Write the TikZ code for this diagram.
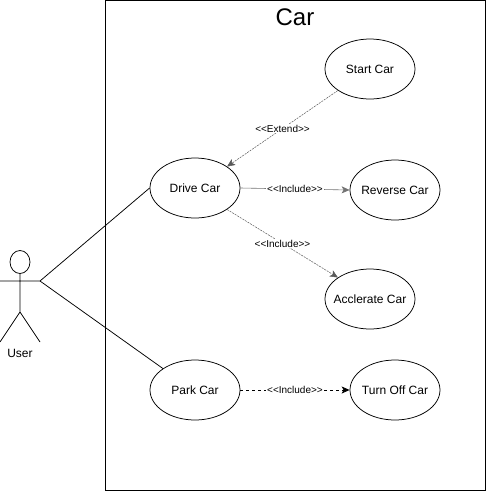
\documentclass[tikz,border=0pt]{standalone}
\usepackage{fontspec}
\setmainfont[Ligatures=NoCommon]{Liberation Sans}
\usetikzlibrary{arrows.meta,shapes.geometric}
\newcommand{\guil}[1]{{<}{<}#1{>}{>}}
\tikzset{
 x=1pt,y=-1pt,
 usecase/.style={draw,ellipse,line width=0.75pt,minimum width=90pt,minimum height=60pt,inner sep=0pt,label={[font=\fontsize{12}{14}\selectfont]center:#1}},
 tip/.style={-{Stealth[length=8pt,width=7pt,inset=2pt]}},
 relfaint/.style={tip,line width=0.5pt,black!65,dash pattern=on 2pt off 1pt},
 relsolid/.style={tip,line width=0.6pt,black!55},
 reldash/.style={tip,line width=0.75pt,dash pattern=on 3pt off 3pt},
 assoc/.style={line width=0.75pt},
 lab/.style={fill=white,text=black,inner sep=1pt,font=\fontsize{10}{12}\selectfont}
}
\begin{document}
\begin{tikzpicture}
\useasboundingbox (0,0) rectangle (486,491);
\node[draw,line width=0.75pt,minimum width=380pt,minimum height=490pt,inner sep=0pt] (car) at (295.5,245.5) {};
\node[font=\fontsize{24}{28}\selectfont] (cart) at (295,17) {Car};
\node[usecase={Start Car}] (start) at (370,69) {};
\node[usecase={Drive Car}] (drive) at (195,188) {};
\node[usecase={Reverse Car}] (rev) at (395,190) {};
\node[usecase={Acclerate Car}] (acc) at (370,299) {};
\node[usecase={Park Car}] (park) at (195,390) {};
\node[usecase={Turn Off Car}] (off) at (395,390) {};
\node[draw,ellipse,line width=0.75pt,minimum width=20pt,minimum height=23pt,inner sep=0pt] (head) at (20,262) {};
\coordinate (hip) at (20,312);
\coordinate (armL) at (0,281);
\coordinate (armR) at (40,281);
\coordinate (footL) at (0,342);
\coordinate (footR) at (40,342);
\draw[assoc] (head) -- (hip) (armL) -- (armR) (hip) -- (footL) (hip) -- (footR);
\node[font=\fontsize{12}{14}\selectfont] (user) at (20,353) {User};
\draw[assoc] (armR) -- (drive.west);
\draw[assoc] (armR) -- (park.north west);
\draw[relfaint] (start.south west) -- node[lab] {\guil{Extend}} (drive.north east);
\draw[relsolid] (drive.east) -- node[lab] {\guil{Include}} (rev.west);
\draw[relfaint] (drive.south east) -- node[lab] {\guil{Include}} (acc.north west);
\draw[reldash] (park.east) -- node[lab] {\guil{Include}} (off.west);
\end{tikzpicture}
\end{document}
